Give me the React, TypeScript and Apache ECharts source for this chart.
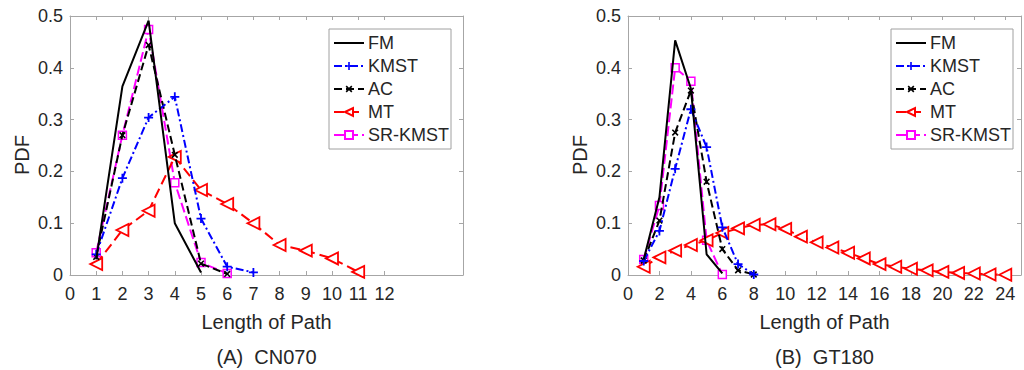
import React, { useEffect, useRef } from "react";
import * as echarts from "echarts";

// ---------- data ----------
const seriesNames = ["FM", "KMST", "AC", "MT", "SR-KMST"];

// (A) CN070
const a_FM_x = [1, 2, 3, 4, 5];
const a_FM_y = [0.03, 0.364, 0.491, 0.1, 0.005];
const a_KMST_x = [1, 2, 3, 4, 5, 6, 7];
const a_KMST_y = [0.04, 0.187, 0.304, 0.344, 0.109, 0.016, 0.005];
const a_AC_x = [1, 2, 3, 4, 5, 6];
const a_AC_y = [0.035, 0.27, 0.444, 0.232, 0.022, 0.002];
const a_MT_x = [1, 2, 3, 4, 5, 6, 7, 8, 9, 10, 11];
const a_MT_y = [0.021, 0.087, 0.124, 0.228, 0.164, 0.137, 0.1, 0.058, 0.047, 0.032, 0.006];
const a_SR_x = [1, 2, 3, 4, 5, 6];
const a_SR_y = [0.043, 0.27, 0.474, 0.178, 0.024, 0.003];

// (B) GT180
const b_FM_x = [1, 2, 3, 4, 5, 6];
const b_FM_y = [0.03, 0.15, 0.453, 0.36, 0.04, 0.003];
const b_KMST_x = [1, 2, 3, 4, 5, 6, 7, 8];
const b_KMST_y = [0.027, 0.085, 0.205, 0.32, 0.247, 0.092, 0.021, 0.001];
const b_AC_x = [1, 2, 3, 4, 5, 6, 7, 8];
const b_AC_y = [0.028, 0.105, 0.275, 0.356, 0.18, 0.05, 0.009, 0.001];
const b_MT_x = [1, 2, 3, 4, 5, 6, 7, 8, 9, 10, 11, 12, 13, 14, 15, 16, 17, 18, 19, 20, 21, 22, 23, 24];
const b_MT_y = [
  0.016, 0.034, 0.047, 0.058, 0.067, 0.081, 0.09, 0.097, 0.098, 0.089, 0.074, 0.063,
  0.053, 0.043, 0.032, 0.021, 0.016, 0.012, 0.009, 0.006, 0.004, 0.003, 0.001, 0.0005,
];
const b_SR_x = [1, 2, 3, 4, 5, 6];
const b_SR_y = [0.03, 0.134, 0.4, 0.374, 0.067, 0.001];

const a_xTicks = [0, 1, 2, 3, 4, 5, 6, 7, 8, 9, 10, 11, 12];
const b_xTicks = [0, 2, 4, 6, 8, 10, 12, 14, 16, 18, 20, 22, 24];

const subtitles = ["(A)  CN070", "(B)  GT180"];
const xTitle = "Length of Path";
const yTitle = "PDF";

// ---------- styling ----------
const FONT = "'Liberation Sans', Arial, sans-serif";
const TXT = "#262626";
const AXC = "#a6a6a6";
const PLUS = "path://M4,0H6V4H10V6H6V10H4V6H0V4H4Z";

const styles: Record<string, any> = {
  FM: { symbol: "none", lineStyle: { color: "#000", width: 2, type: "solid" }, itemStyle: { color: "#000" } },
  KMST: {
    symbol: PLUS, symbolSize: 9,
    lineStyle: { color: "#0000ff", width: 2, type: [8, 3, 2, 3] },
    itemStyle: { color: "#0000ff" },
  },
  AC: {
    symbol: PLUS, symbolSize: 8, symbolRotate: 45,
    lineStyle: { color: "#000", width: 2, type: [8, 4] },
    itemStyle: { color: "#000" },
  },
  MT: {
    symbol: "triangle", symbolSize: 12, symbolRotate: 90,
    lineStyle: { color: "#ff0000", width: 2, type: [10, 5] },
    itemStyle: { color: "#ffffff", borderColor: "#ff0000", borderWidth: 1.8 },
  },
  "SR-KMST": {
    symbol: "rect", symbolSize: 8,
    lineStyle: { color: "#ff00ff", width: 2, type: [10, 4] },
    itemStyle: { color: "#ffffff", borderColor: "#ff00ff", borderWidth: 1.5 },
  },
};

const zip = (xs: number[], ys: number[]) => xs.map((x, i) => [x, ys[i]]);

const GRIDS = [
  { left: 70, top: 16, width: 393, height: 259 },
  { left: 628, top: 16, width: 393, height: 259 },
];

export default function App() {
  const ref = useRef<HTMLDivElement>(null);

  useEffect(() => {
    if (!ref.current) return;
    const chart = echarts.init(ref.current, undefined, { renderer: "svg" });

    const xAxisPair = (gi: number, max: number, ticks: number[]) => {
      const base = {
        type: "value",
        gridIndex: gi,
        min: 0,
        max,
        splitLine: { show: false },
        axisLine: { show: true, onZero: false, lineStyle: { color: AXC, width: 1 } },
      };
      return [
        {
          ...base,
          position: "bottom",
          name: xTitle,
          nameLocation: "middle",
          nameGap: 37,
          nameTextStyle: { fontFamily: FONT, fontSize: 20, color: TXT },
          axisTick: { show: true, inside: true, length: 4, customValues: ticks, lineStyle: { color: AXC } },
          axisLabel: {
            show: true, customValues: ticks, margin: 10,
            fontFamily: FONT, fontSize: 18, color: TXT,
          },
        },
        {
          ...base,
          position: "top",
          axisTick: { show: true, inside: true, length: 4, customValues: ticks, lineStyle: { color: AXC } },
          axisLabel: { show: false },
        },
      ];
    };

    const yAxisPair = (gi: number) => {
      const base = {
        type: "value",
        gridIndex: gi,
        min: 0,
        max: 0.5,
        interval: 0.1,
        splitLine: { show: false },
        axisLine: { show: true, onZero: false, lineStyle: { color: AXC, width: 1 } },
        axisTick: { show: true, inside: true, length: 4, lineStyle: { color: AXC } },
      };
      return [
        {
          ...base,
          position: "left",
          axisLabel: {
            show: true, margin: 7, fontFamily: FONT, fontSize: 18, color: TXT,
            formatter: (v: number) => (v === 0 ? "0" : v.toFixed(1)),
          },
        },
        { ...base, position: "right", axisLabel: { show: false } },
      ];
    };

    const panelData = [
      [zip(a_FM_x, a_FM_y), zip(a_KMST_x, a_KMST_y), zip(a_AC_x, a_AC_y), zip(a_MT_x, a_MT_y), zip(a_SR_x, a_SR_y)],
      [zip(b_FM_x, b_FM_y), zip(b_KMST_x, b_KMST_y), zip(b_AC_x, b_AC_y), zip(b_MT_x, b_MT_y), zip(b_SR_x, b_SR_y)],
    ];

    const series: any[] = [];
    panelData.forEach((sets, gi) => {
      sets.forEach((data, si) => {
        const name = seriesNames[si];
        series.push({
          type: "line",
          name,
          xAxisIndex: gi * 2,
          yAxisIndex: gi * 2,
          data,
          showSymbol: true,
          z: 10 - si,
          ...styles[name],
        });
      });
    });

    const legendData = seriesNames.map((n) =>
      n === "FM"
        ? { name: n, itemStyle: { color: "rgba(0,0,0,0)", borderColor: "rgba(0,0,0,0)", borderWidth: 0 } }
        : { name: n }
    );

    const legendBase = {
      orient: "vertical",
      top: 29,
      data: legendData,
      itemWidth: 30,
      itemHeight: 10,
      itemGap: 5,
      padding: [5, 2, 5, 4],
      backgroundColor: "#fff",
      borderColor: "#a0a0a0",
      borderWidth: 1,
      borderRadius: 0,
      selectedMode: false,
      textStyle: { fontFamily: FONT, fontSize: 18, color: TXT, lineHeight: 18, padding: [0, 0, 0, -1] },
    };

    const graphic: any[] = [];
    GRIDS.forEach((g, i) => {
      const cx = g.left + g.width / 2;
      graphic.push({
        type: "text",
        x: cx,
        y: 357,
        style: { text: subtitles[i], align: "center", verticalAlign: "middle", font: `20px ${FONT}`, fill: TXT },
      });
      graphic.push({
        type: "text",
        x: g.left - 48,
        y: 155,
        rotation: Math.PI / 2,
        style: { text: yTitle, align: "center", verticalAlign: "middle", font: `20px ${FONT}`, fill: TXT },
      });
    });

    chart.setOption({
      animation: false,
      backgroundColor: "#fff",
      grid: GRIDS.map((g) => ({ ...g, containLabel: false })),
      xAxis: [...xAxisPair(0, 15, a_xTicks), ...xAxisPair(1, 25, b_xTicks)],
      yAxis: [...yAxisPair(0), ...yAxisPair(1)],
      legend: [
        { ...legendBase, left: 329 },
        { ...legendBase, left: 891 },
      ],
      series,
      graphic,
    });

    return () => chart.dispose();
  }, []);

  return (
    <div
      ref={ref}
      style={{ position: "fixed", left: 0, top: 0, width: 1024, height: 370, background: "#fff" }}
    />
  );
}
